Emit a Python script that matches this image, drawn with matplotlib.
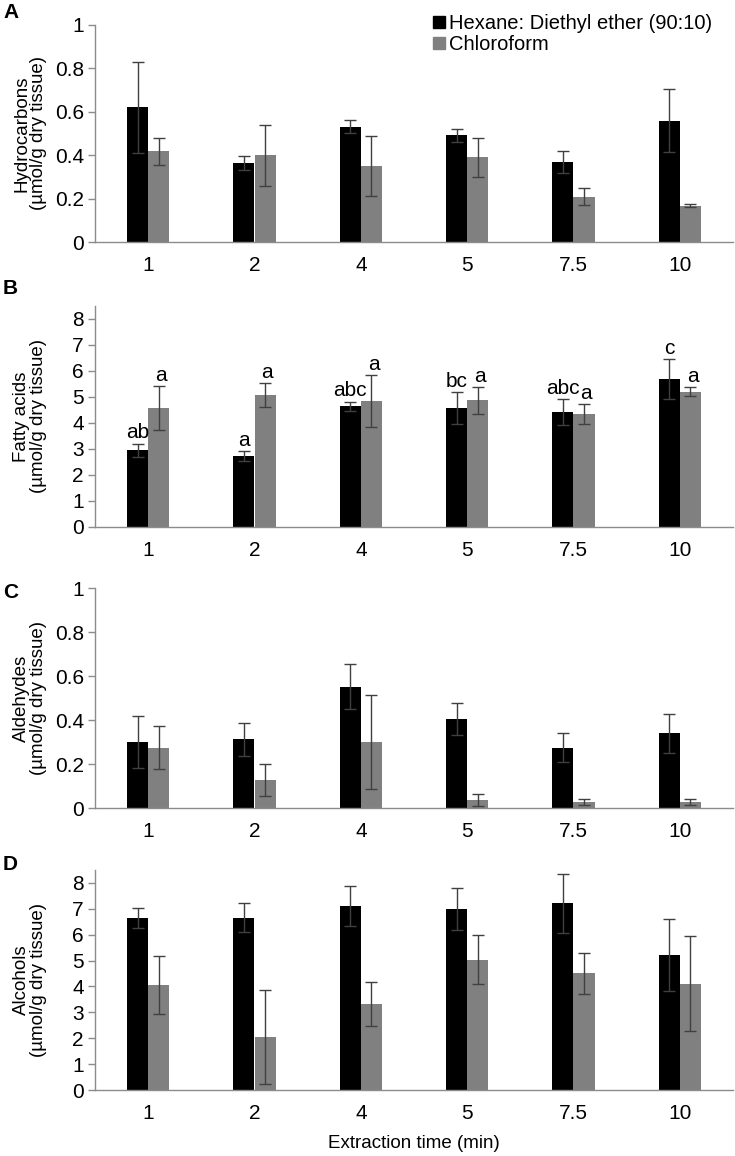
import matplotlib
matplotlib.use("Agg")
import matplotlib.pyplot as plt
from matplotlib.lines import Line2D
import numpy as np

plt.rcParams['font.family'] = ['Liberation Sans', 'DejaVu Sans']

times = ["1", "2", "4", "5", "7.5", "10"]
solvents = ["Hexane: Diethyl ether (90:10)", "Chloroform"]

# A - hydrocarbons
hc_hex = [0.62, 0.365, 0.532, 0.492, 0.370, 0.559]
hc_hex_err = [0.21, 0.032, 0.030, 0.031, 0.050, 0.146]
hc_chl = [0.418, 0.399, 0.350, 0.390, 0.208, 0.166]
hc_chl_err = [0.063, 0.140, 0.138, 0.091, 0.039, 0.007]

# B - fatty acids
fa_hex = [2.95, 2.73, 4.65, 4.58, 4.42, 5.69]
fa_hex_err = [0.25, 0.20, 0.17, 0.61, 0.50, 0.77]
fa_chl = [4.58, 5.07, 4.84, 4.87, 4.34, 5.21]
fa_chl_err = [0.85, 0.47, 1.00, 0.52, 0.39, 0.17]
fa_hex_letters = ["ab", "a", "abc", "bc", "abc", "c"]
fa_chl_letters = ["a", "a", "a", "a", "a", "a"]

# C - aldehydes
al_hex = [0.301, 0.312, 0.552, 0.404, 0.275, 0.339]
al_hex_err = [0.118, 0.074, 0.104, 0.072, 0.068, 0.087]
al_chl = [0.275, 0.128, 0.300, 0.035, 0.026, 0.028]
al_chl_err = [0.099, 0.073, 0.213, 0.028, 0.013, 0.014]

# D - alcohols
oh_hex = [6.65, 6.65, 7.12, 7.00, 7.21, 5.22]
oh_hex_err = [0.40, 0.56, 0.78, 0.82, 1.14, 1.38]
oh_chl = [4.07, 2.05, 3.32, 5.03, 4.51, 4.11]
oh_chl_err = [1.12, 1.80, 0.84, 0.95, 0.80, 1.84]

panels = [
    ("A", "Hydrocarbons", hc_hex, hc_hex_err, hc_chl, hc_chl_err, (0, 1), np.arange(0, 1.01, 0.2)),
    ("B", "Fatty acids", fa_hex, fa_hex_err, fa_chl, fa_chl_err, (0, 8.5), np.arange(0, 9, 1)),
    ("C", "Aldehydes", al_hex, al_hex_err, al_chl, al_chl_err, (0, 1), np.arange(0, 1.01, 0.2)),
    ("D", "Alcohols", oh_hex, oh_hex_err, oh_chl, oh_chl_err, (0, 8.5), np.arange(0, 9, 1)),
]

W, H = 735, 1156
fig = plt.figure(figsize=(W / 100, H / 100), dpi=100)

# axes boxes in pixels: (top, bottom)
boxes = [(25, 242), (306, 527), (588, 808), (870, 1090)]
letter_y = [12, 288, 593, 864]
x_left, x_right = 95, 733

black = "#000000"
grey = "#808080"
spine_c = "#8c8c8c"
err_c = "#404040"
bw = 0.2
x = np.arange(len(times))

for k, (letter, name, hex_v, hex_e, chl_v, chl_e, ylim, yticks) in enumerate(panels):
    top, bot = boxes[k]
    ax = fig.add_axes([x_left / W, 1 - bot / H, (x_right - x_left) / W, (bot - top) / H])
    ax.bar(x - bw / 2, hex_v, bw, color=black, zorder=2)
    ax.bar(x + bw / 2, chl_v, bw, color=grey, zorder=2)
    ax.errorbar(x - bw / 2, hex_v, yerr=hex_e, fmt="none", ecolor=err_c,
                elinewidth=1, capsize=4, capthick=1, zorder=3)
    ax.errorbar(x + bw / 2, chl_v, yerr=chl_e, fmt="none", ecolor=err_c,
                elinewidth=1, capsize=4, capthick=1, zorder=3)

    ax.set_xlim(-0.5, len(times) - 0.5)
    ax.set_ylim(*ylim)
    ax.set_yticks(yticks)
    if ylim[1] == 1:
        ax.set_yticklabels(["0", "0.2", "0.4", "0.6", "0.8", "1"])
    ax.set_xticks(x)
    ax.set_xticklabels(times)
    for s in ["top", "right"]:
        ax.spines[s].set_visible(False)
    for s in ["left", "bottom"]:
        ax.spines[s].set_color(spine_c)
        ax.spines[s].set_linewidth(1)
    ax.tick_params(axis="y", length=5, width=1, color=spine_c, labelsize=15, pad=3)
    ax.tick_params(axis="x", length=0, labelsize=15, pad=10)

    ax.set_ylabel(name + "\n(\u00b5mol/g dry tissue)", fontsize=13.5, linespacing=1.0,
                  multialignment="center")
    ax.yaxis.set_label_coords(-0.075, 0.5)

    fig.text(3 / W, 1 - letter_y[k] / H, letter, fontsize=15, fontweight="bold",
             va="center", ha="left")

    if letter == "B":
        for i in range(len(times)):
            ax.text(x[i] - bw / 2, hex_v[i] + hex_e[i] + 0.05, fa_hex_letters[i],
                    ha="center", va="bottom", fontsize=15)
            ax.text(x[i] + bw / 2 + 0.02, chl_v[i] + chl_e[i] + 0.05, fa_chl_letters[i],
                    ha="center", va="bottom", fontsize=15)

    if letter == "A":
        handles = [Line2D([], [], marker="s", linestyle="none", color=black, markersize=8),
                   Line2D([], [], marker="s", linestyle="none", color=grey, markersize=8)]
        ax.legend(handles, solvents, loc="upper left", bbox_to_anchor=(0.53, 1.05),
                  frameon=False, fontsize=14.5, handlelength=0.6, handletextpad=0.2,
                  labelspacing=0.1, borderpad=0, borderaxespad=0)

    if letter == "D":
        ax.set_xlabel("Extraction time (min)", fontsize=13.5, labelpad=9)

fig.savefig("out.png", dpi=100)
